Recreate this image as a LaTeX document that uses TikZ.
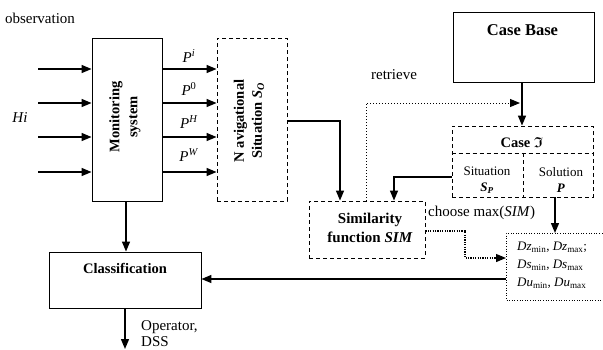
\documentclass[tikz,border=0pt]{standalone}
\usepackage{amsmath,amssymb}
\usepackage{fontspec}
\setmainfont{Liberation Serif}
\usetikzlibrary{arrows.meta}
\begin{document}
\begin{tikzpicture}[x=1pt,y=-1pt,
  box/.style={draw, line width=0.9pt, inner sep=0pt, align=center},
  dbox/.style={box, dashed, dash pattern=on 4pt off 3pt},
  arr/.style={line width=1.4pt, -{Triangle[length=10pt,width=8pt]}},
  ln/.style={line width=1.4pt},
  dotarr/.style={line width=1.2pt, dash pattern=on 1.2pt off 1.2pt, -{Triangle[length=10pt,width=8pt]}},
  rtarr/.style={line width=1pt, dotted, -{Triangle[length=10pt,width=8pt]}},
  reg/.style={font=\fontsize{15}{17}\selectfont, inner sep=0pt},
  bld/.style={font=\fontsize{14.5}{18}\selectfont\bfseries, inner sep=0pt, align=center}]
\useasboundingbox (0,0) rectangle (603,349);

% boxes
\node[box, minimum width=70pt, minimum height=163pt] (mon) at (127,119.5) {};
\node[bld, rotate=90] (montxt) at (125,117) {Monitoring\\system};
\node[dbox, minimum width=70pt, minimum height=163pt] (nav) at (252,119.5) {};
\node[bld, rotate=90] (navtxt) at (249,121) {N avigational\\Situation \textit{S\textsubscript{O}}};
\node[box, minimum width=141pt, minimum height=70pt] (cb) at (523.5,47) {};
\node[bld, font=\fontsize{16.5}{18}\selectfont\bfseries] (cbtxt) at (522.5,30) {Case Base};
\node[dbox, minimum width=141pt, minimum height=71pt] (case) at (522.5,161.5) {};
\draw[dashed, dash pattern=on 4pt off 3pt, line width=0.9pt] (case.west |- 0,153) coordinate (dl) -- (case.east |- 0,153) coordinate (dr);
\draw[dashed, dash pattern=on 4pt off 3pt, line width=0.9pt] (523,153) coordinate (dv1) -- (case.south -| dv1) ;
\node[bld, font=\fontsize{14.5}{18}\selectfont\bfseries] (casetxt) at (522,143) {Case $\boldsymbol{\mathfrak{I}}$};
\node[reg, font=\fontsize{13}{15}\selectfont, align=center] (sit) at (487,180) {Situation\\[1pt]\textbf{\textit{S\textsubscript{P}}}};
\node[reg, font=\fontsize{13}{15}\selectfont, align=center] (sol) at (561,180) {Solution\\[1pt]\textbf{\textit{P}}};
\node[dbox, minimum width=116pt, minimum height=57pt] (sim) at (367,229.5) {};
\node[bld, font=\fontsize{15}{19}\selectfont\bfseries] (simtxt) at (370,228) {Similarity\\function \textit{SIM}};
\node[box, minimum width=152pt, minimum height=56pt] (cls) at (125,280) {};
\node[bld] (clstxt) at (125,268) {Classification};

% dotted result box (open to the right)
\coordinate (dzTL) at (506,233);
\coordinate (dzBL) at (506,300);
\draw[line width=0.6pt, dotted] (610,233) -- (dzTL) -- (dzBL) -- (610,300);
\node[reg, font=\fontsize{13}{18}\selectfont, align=left, anchor=west] (dz) at (517,265)
  {\textit{Dz}\textsubscript{min}, \textit{Dz}\textsubscript{max};\\
   \textit{Ds}\textsubscript{min}, \textit{Ds}\textsubscript{max}\\
   \textit{Du}\textsubscript{min}, \textit{Du}\textsubscript{max}};

% labels
\node[reg] (obs) at (40,18) {observation};
\node[reg] (hi) at (20,118) {\textit{Hi}};
\node[reg] (p1) at (189,56) {\textit{P}\textsuperscript{\textit{i}}};
\node[reg] (p2) at (189,89) {\textit{P}\textsuperscript{0}};
\node[reg] (p3) at (189,122) {\textit{P}\textsuperscript{\textit{H}}};
\node[reg] (p4) at (189,155) {\textit{P}\textsuperscript{\textit{W}}};
\node[reg] (ret) at (394,75) {retrieve};
\node[reg, anchor=west] (cho) at (428,213) {choose max(\textit{SIM})};
\node[reg, anchor=west, align=left, font=\fontsize{15}{16}\selectfont] (op) at (141,334) {Operator,\\DSS};

% input arrows
\foreach \y [count=\i] in {69,103,137,172} {
  \coordinate (in\i) at (38,\y);
  \draw[arr] (in\i) -- (in\i -| mon.west);
  \draw[arr] (in\i -| mon.east) -- (in\i -| nav.west);
}

% nav -> sim
\coordinate (simL) at ([xshift=-27pt]sim.north);
\coordinate (simR) at ([xshift=27pt]sim.north);
\draw[arr] (nav.east |- 0,121) -| (simL);
% case base -> case
\draw[arr] (cb.south -| 522,0) -- (case.north -| 522,0);
% situation -> sim
\draw[arr] (case.west |- 0,177) -| (simR);
% retrieve dotted
\coordinate (rt) at (520,103);
\draw[rtarr] ([xshift=-1pt]sim.north) |- (rt);
% solution -> result
\draw[arr] (case.south -| 555,0) -- (dzTL -| 555,0);
% choose dotted
\coordinate (ch) at (465,231);
\draw[dotarr] (sim.east |- ch) -- (ch) |- (dzTL |- 0,258);
% result -> classification
\draw[arr] (dzTL |- 0,279) -- (cls.east |- 0,279);
% monitoring -> classification
\draw[arr] (mon.south -| 126,0) -- (cls.north -| 126,0);
% classification -> out
\coordinate (out) at (125,349);
\draw[arr] (cls.south) -- (out);
\end{tikzpicture}
\end{document}
